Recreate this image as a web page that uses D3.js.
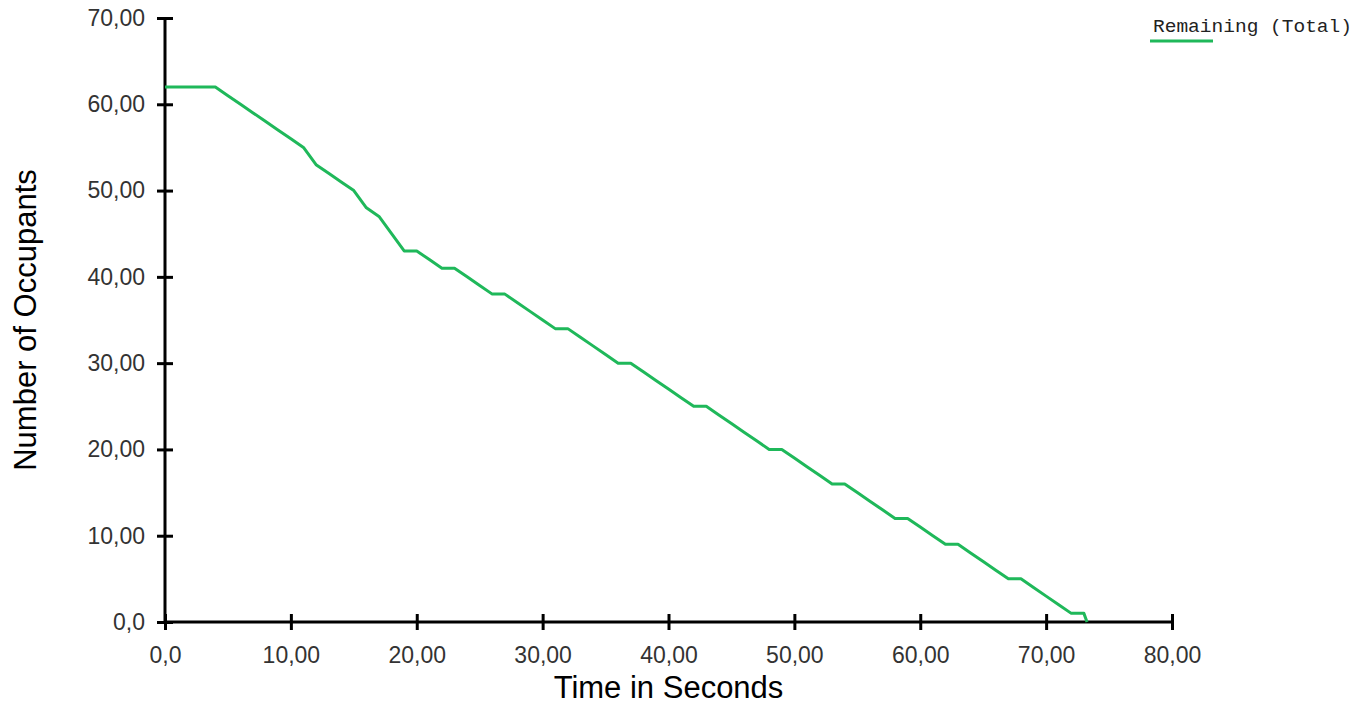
<!DOCTYPE html>
<html>
<head>
<meta charset="utf-8">
<script src="https://cdn.jsdelivr.net/npm/d3@7"></script>
<style>
  html, body { margin: 0; padding: 0; background: #fff; }
  svg { display: block; }
</style>
</head>
<body>
<svg id="chart" width="1369" height="706"></svg>
<script>
// ---- data ----
const seriesName = "Remaining (Total)";
const times = [0,1,2,3,4,5,6,7,8,9,10,11,12,13,14,15,16,17,18,19,20,21,22,23,24,25,26,27,28,29,30,31,32,33,34,35,36,37,38,39,40,41,42,43,44,45,46,47,48,49,50,51,52,53,54,55,56,57,58,59,60,61,62,63,64,65,66,67,68,69,70,71,72,73,73.25];
const remaining = [62,62,62,62,62,61,60,59,58,57,56,55,53,52,51,50,48,47,45,43,43,42,41,41,40,39,38,38,37,36,35,34,34,33,32,31,30,30,29,28,27,26,25,25,24,23,22,21,20,20,19,18,17,16,16,15,14,13,12,12,11,10,9,9,8,7,6,5,5,4,3,2,1,1,0];
const xTicks = [0,10,20,30,40,50,60,70,80];
const yTicks = [0,10,20,30,40,50,60,70];
const xTitle = "Time in Seconds";
const yTitle = "Number of Occupants";

// ---- layout ----
const svg = d3.select("#chart");
const pLeft = 165, pRight = 1172, pTop = 18, pBottom = 622;
const green = "#1fb85a";

const x = d3.scaleLinear().domain([0, 80]).range([pLeft, pRight]);
const y = d3.scaleLinear().domain([0, 70]).range([pBottom, pTop]);

const fmt = d => d === 0 ? "0,0" : d.toFixed(2).replace(".", ",");

// y axis
const yAxis = svg.append("g")
  .attr("transform", `translate(${pLeft},0)`)
  .call(d3.axisLeft(y).tickValues(yTicks).tickFormat(fmt).tickSizeInner(8).tickSizeOuter(0).tickPadding(12));
yAxis.select(".domain").attr("stroke", "#000").attr("stroke-width", 3)
  .attr("d", `M0,${pTop}V${pBottom}`);
yAxis.selectAll(".tick line").attr("stroke", "#000").attr("stroke-width", 3).attr("x1", -8).attr("x2", 8);
yAxis.selectAll(".tick text")
  .attr("font-family", "Arial, 'Liberation Sans', sans-serif")
  .attr("font-size", 23).attr("fill", "#333");

// x axis
const xAxis = svg.append("g")
  .attr("transform", `translate(0,${pBottom})`)
  .call(d3.axisBottom(x).tickValues(xTicks).tickFormat(fmt).tickSizeInner(8).tickSizeOuter(0).tickPadding(17));
xAxis.select(".domain").attr("stroke", "#000").attr("stroke-width", 3)
  .attr("d", `M${pLeft},0H${pRight}`);
xAxis.selectAll(".tick line").attr("stroke", "#000").attr("stroke-width", 3).attr("y1", -8).attr("y2", 8);
xAxis.selectAll(".tick text")
  .attr("font-family", "Arial, 'Liberation Sans', sans-serif")
  .attr("font-size", 23).attr("fill", "#333");

// titles
svg.append("text")
  .attr("x", (pLeft + pRight) / 2).attr("y", 698)
  .attr("text-anchor", "middle")
  .attr("font-family", "Arial, 'Liberation Sans', sans-serif")
  .attr("font-size", 31).attr("fill", "#000")
  .text(xTitle);

svg.append("text")
  .attr("transform", `translate(36,${(pTop + pBottom) / 2}) rotate(-90)`)
  .attr("text-anchor", "middle")
  .attr("font-family", "Arial, 'Liberation Sans', sans-serif")
  .attr("font-size", 31).attr("fill", "#000")
  .text(yTitle);

// line
const pts = times.map((t, i) => [t, remaining[i]]);
svg.append("path")
  .datum(pts)
  .attr("fill", "none")
  .attr("stroke", green)
  .attr("stroke-width", 3)
  .attr("stroke-linejoin", "round")
  .attr("d", d3.line().x(d => x(d[0])).y(d => y(d[1])));

// legend
svg.append("line")
  .attr("x1", 1150).attr("x2", 1213).attr("y1", 41).attr("y2", 41)
  .attr("stroke", green).attr("stroke-width", 3);
svg.append("text")
  .attr("x", 1153).attr("y", 32)
  .attr("font-family", "'Courier New', 'Liberation Mono', monospace")
  .attr("font-size", 19).attr("fill", "#222")
  .attr("textLength", 199).attr("lengthAdjust", "spacingAndGlyphs")
  .text(seriesName);
</script>
</body>
</html>
